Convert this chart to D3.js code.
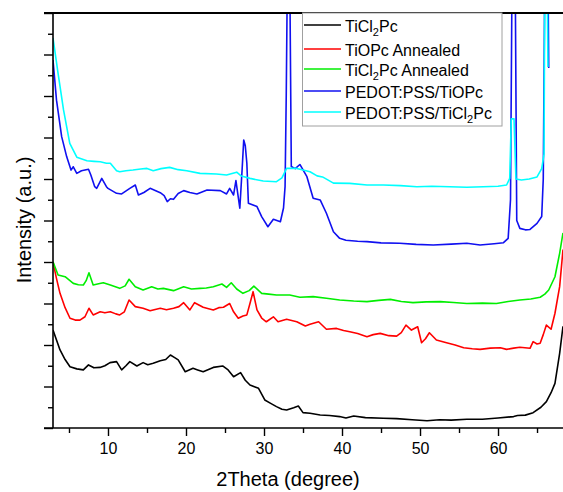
<!DOCTYPE html>
<html>
<head>
<meta charset="utf-8">
<script src="https://cdn.jsdelivr.net/npm/d3@7/dist/d3.min.js"></script>
<style>
body { margin: 0; background: #fff; }
svg { display: block; font-family: "Liberation Sans", Arial, sans-serif; }
</style>
</head>
<body>
<div id="app"></div>
<script>
// ---------- data (2theta in degree, intensity in a.u.) ----------
const seriesNames = ["TiCl2Pc", "TiOPc Annealed", "TiCl2Pc Annealed", "PEDOT:PSS/TiOPc", "PEDOT:PSS/TiCl2Pc"];
const seriesColors = ["#000000", "#ff0000", "#00ee00", "#1010f0", "#00ffff"];

const tiCl2Pc = [[2.95,4.72],[3.85,3.76],[4.5,3.3],[5.13,2.95],[6.0,2.85],[6.84,2.8],[7.5,3.04],[8.2,2.9],[8.97,2.92],[9.6,3.0],[10.26,3.15],[11.1,3.2],[11.75,2.8],[12.3,3.0],[12.8,3.2],[13.7,2.99],[14.5,3.15],[15.1,3.05],[15.8,3.12],[16.7,3.24],[17.4,3.3],[18.0,3.52],[18.5,3.4],[19.0,3.28],[19.9,2.71],[20.9,2.88],[21.5,2.8],[22.2,2.71],[23.5,2.92],[24.7,2.99],[25.4,2.8],[26.1,2.47],[27.0,2.67],[27.6,2.3],[28.2,2.07],[29.3,1.91],[30.1,1.35],[30.8,1.2],[31.6,1.03],[32.3,0.9],[32.9,0.87],[33.8,0.98],[34.4,1.06],[35.0,0.74],[35.9,0.71],[37.2,0.63],[38.4,0.6],[39.7,0.55],[40.5,0.48],[41.5,0.58],[43.0,0.5],[45.3,0.47],[47.0,0.45],[49.0,0.4],[50.9,0.35],[52.5,0.4],[54.0,0.38],[56.0,0.42],[58.0,0.42],[60.0,0.48],[62.0,0.55],[62.5,0.6],[63.5,0.62],[64.5,0.74],[65.5,1.0],[66.2,1.27],[66.8,1.7],[67.3,2.15],[67.9,3.6],[68.33,4.9]];

const tiOPcAnnealed = [[2.95,8.0],[3.4,7.2],[3.85,6.49],[4.5,5.8],[5.13,5.29],[5.8,5.2],[6.4,5.2],[7.05,5.36],[7.56,5.77],[8.1,5.45],[9.0,5.6],[9.6,5.55],[10.3,5.6],[11.0,5.5],[11.5,5.45],[12.1,5.6],[12.7,6.17],[13.5,5.85],[14.5,5.77],[15.4,5.65],[16.7,5.77],[17.5,5.7],[18.4,5.77],[19.1,5.85],[19.7,6.04],[20.5,5.69],[21.1,6.04],[22.2,5.82],[22.9,5.75],[23.5,5.69],[24.2,5.8],[24.8,5.82],[25.6,6.0],[26.1,5.6],[26.7,5.29],[27.3,5.4],[27.8,5.45],[28.2,6.0],[28.6,6.57],[29.1,5.69],[29.7,5.3],[30.3,5.12],[31.2,5.36],[31.8,5.12],[32.9,5.24],[34.2,5.12],[35.3,4.92],[35.9,5.0],[37.0,5.12],[38.0,4.76],[39.3,4.8],[40.2,4.7],[41.0,4.64],[42.0,4.55],[43.2,4.4],[44.0,4.5],[44.9,4.56],[46.0,4.45],[47.0,4.43],[47.6,4.6],[48.2,4.96],[48.9,4.72],[49.7,4.88],[50.2,4.11],[50.7,4.3],[51.2,4.59],[52.1,4.24],[53.4,4.11],[54.5,4.0],[55.6,3.87],[56.7,3.82],[57.7,3.79],[59.0,3.85],[60.3,3.87],[61.1,3.79],[62.0,3.85],[62.8,3.89],[64.1,3.84],[64.5,4.16],[65.0,4.05],[65.4,4.08],[65.8,4.5],[66.2,4.96],[66.8,4.76],[67.3,5.53],[67.9,6.81],[68.33,8.6]];

const tiCl2PcAnnealed = [[2.95,8.01],[3.6,7.37],[4.5,7.29],[5.55,6.97],[6.2,6.9],[6.84,6.89],[7.2,7.1],[7.56,7.48],[8.1,6.89],[8.8,6.95],[9.4,7.0],[10.3,6.89],[11.5,6.73],[12.2,6.85],[12.7,7.17],[13.5,6.81],[14.5,6.65],[15.6,6.81],[16.4,6.7],[17.1,6.73],[18.4,6.62],[19.7,6.81],[20.7,6.7],[21.8,6.73],[22.6,6.75],[23.5,6.81],[24.6,6.94],[25.2,6.78],[25.8,7.0],[26.5,6.7],[27.3,6.49],[28.1,6.62],[28.7,6.84],[29.7,6.49],[30.6,6.45],[31.6,6.41],[33.3,6.41],[34.6,6.3],[36.3,6.33],[38.0,6.25],[39.7,6.17],[41.5,6.12],[43.2,6.09],[44.7,6.15],[46.2,6.2],[47.6,6.1],[49.1,6.04],[50.8,6.08],[52.6,6.09],[54.3,6.05],[56.0,6.0],[58.0,6.02],[59.8,6.0],[61.3,6.1],[62.8,6.17],[64.2,6.22],[65.4,6.3],[66.0,6.45],[66.5,6.65],[67.3,7.29],[67.9,8.42],[68.33,9.4]];

const pedotTiOPc = [[2.95,17.73],[3.4,15.8],[4.06,14.04],[4.7,13.08],[5.26,12.43],[5.55,12.59],[6.0,12.27],[6.6,12.4],[7.5,12.47],[7.8,12.19],[8.3,11.63],[8.55,11.55],[9.2,12.03],[9.8,11.63],[10.0,11.55],[11.1,11.31],[11.75,11.28],[12.8,11.55],[13.5,11.71],[13.9,11.23],[14.6,11.35],[15.4,11.55],[16.7,11.34],[17.2,11.2],[17.6,10.91],[18.0,11.05],[18.4,11.02],[19.0,11.3],[19.7,11.44],[20.5,11.35],[21.4,11.28],[22.7,11.47],[24.4,11.44],[25.2,11.28],[25.6,11.55],[26.1,11.23],[26.4,11.92],[26.9,10.59],[27.2,12.5],[27.4,13.88],[27.6,13.6],[27.8,12.76],[28.0,10.83],[29.1,10.67],[29.7,10.19],[30.5,9.7],[31.2,10.06],[32.1,9.94],[32.5,10.6],[32.7,11.63],[32.85,16],[33.0,22],[33.3,22],[33.5,12.6],[34.0,12.5],[34.6,12.7],[35.5,12.11],[36.3,11.07],[37.2,10.99],[38.0,10.35],[38.9,9.46],[39.7,9.14],[40.5,9.05],[42.0,9.0],[43.2,8.98],[45.0,8.92],[47.4,8.9],[49.5,8.85],[51.7,8.82],[54.0,8.86],[56.0,8.9],[57.7,8.82],[59.5,8.88],[60.7,8.93],[61.3,9.14],[61.6,11],[61.8,22],[62.2,22],[62.4,10.0],[62.8,9.62],[63.5,9.55],[64.1,9.57],[65.0,9.86],[65.6,10.19],[65.8,12],[66.0,22],[66.4,22],[66.5,17.35]];

const pedotTiCl2Pc = [[2.95,18.8],[3.6,17.09],[4.3,15.33],[5.1,13.72],[6.0,13.05],[7.3,12.88],[8.2,12.85],[9.0,12.83],[9.8,12.76],[10.3,12.76],[11.1,12.4],[11.5,12.35],[12.3,12.4],[13.2,12.43],[14.2,12.48],[15.0,12.51],[15.8,12.4],[16.8,12.5],[17.9,12.56],[19.0,12.45],[20.1,12.4],[21.8,12.27],[23.9,12.24],[25.2,12.19],[26.5,12.33],[27.1,12.14],[28.2,12.03],[29.9,11.9],[31.6,11.87],[32.3,12.05],[32.9,12.51],[34.2,12.51],[35.0,12.43],[35.9,12.35],[36.8,12.15],[37.5,12.1],[38.9,11.8],[41.0,11.79],[43.2,11.71],[45.3,11.71],[47.5,11.68],[49.6,11.63],[51.5,11.65],[53.8,11.63],[56.0,11.6],[58.1,11.63],[60.0,11.65],[61.1,11.71],[61.5,12.03],[61.7,14.9],[62.05,14.9],[62.3,12.0],[63.0,11.95],[64.0,12.0],[65.0,12.1],[65.6,12.5],[65.9,13.2],[66.0,22],[66.3,22],[66.4,17.4]];

const allSeries = [tiCl2Pc, tiOPcAnnealed, tiCl2PcAnnealed, pedotTiOPc, pedotTiCl2Pc];

const xMajorTicks = [10, 20, 30, 40, 50, 60];
const xMinorTicks = [5, 15, 25, 35, 45, 55, 65];
const yMajorTicks = [0, 2, 4, 6, 8, 10, 12, 14, 16, 18, 20];
const yMinorTicks = [1, 3, 5, 7, 9, 11, 13, 15, 17, 19];

// ---------- layout ----------
const w = 563, h = 492;
const plotLeft = 53, plotRight = 563, plotTop = 13, plotBottom = 428;

const svg = d3.select('#app')
  .append('svg')
  .attr('width', w)
  .attr('height', h);

const x = d3.scaleLinear().domain([2.95, 68.33]).range([plotLeft, plotRight]);
const y = d3.scaleLinear().domain([0, 20]).range([plotBottom, plotTop]);

svg.append('clipPath')
  .attr('id', 'plot-clip')
  .append('rect')
  .attr('x', plotLeft)
  .attr('y', plotTop)
  .attr('width', plotRight - plotLeft)
  .attr('height', plotBottom - plotTop);

// ---------- curves ----------
const line = d3.line()
  .x(d => x(d[0]))
  .y(d => y(d[1]));

svg.append('g')
  .attr('clip-path', 'url(#plot-clip)')
  .selectAll('path')
  .data(allSeries)
  .enter()
  .append('path')
  .attr('d', line)
  .attr('fill', 'none')
  .attr('stroke', (d, i) => seriesColors[i])
  .attr('stroke-width', 1.6)
  .attr('stroke-linejoin', 'round');

// ---------- axes ----------
const xMajor = svg.append('g')
  .attr('transform', `translate(0,${plotBottom})`)
  .call(d3.axisBottom(x).tickValues(xMajorTicks).tickSize(8).tickSizeOuter(0).tickPadding(7));
xMajor.select('.domain').remove();
xMajor.selectAll('text')
  .attr('font-size', 16)
  .attr('font-family', '"Liberation Sans", Arial, sans-serif')
  .attr('fill', '#000');

const xMinor = svg.append('g')
  .attr('transform', `translate(0,${plotBottom})`)
  .call(d3.axisBottom(x).tickValues(xMinorTicks).tickSize(5).tickFormat(''));
xMinor.select('.domain').remove();

const yMajor = svg.append('g')
  .attr('transform', `translate(${plotLeft},0)`)
  .call(d3.axisLeft(y).tickValues(yMajorTicks).tickSize(9).tickFormat(''));
yMajor.select('.domain').remove();

const yMinor = svg.append('g')
  .attr('transform', `translate(${plotLeft},0)`)
  .call(d3.axisLeft(y).tickValues(yMinorTicks).tickSize(5).tickFormat(''));
yMinor.select('.domain').remove();

svg.selectAll('.tick line').attr('stroke', '#000').attr('stroke-width', 1.4);

// frame lines
svg.append('line')
  .attr('x1', 44).attr('x2', w)
  .attr('y1', plotBottom).attr('y2', plotBottom)
  .attr('stroke', '#000').attr('stroke-width', 1.6);
svg.append('line')
  .attr('x1', plotLeft).attr('x2', plotLeft)
  .attr('y1', plotTop).attr('y2', plotBottom)
  .attr('stroke', '#000').attr('stroke-width', 1.6);
svg.append('line')
  .attr('x1', 44).attr('x2', w)
  .attr('y1', plotTop).attr('y2', plotTop)
  .attr('stroke', '#000').attr('stroke-width', 2);

// axis titles
svg.append('text')
  .attr('x', 288)
  .attr('y', 486)
  .attr('text-anchor', 'middle')
  .attr('font-size', 20)
  .text('2Theta (degree)');

svg.append('text')
  .attr('transform', 'translate(31,220) rotate(-90)')
  .attr('text-anchor', 'middle')
  .attr('font-size', 20)
  .text('Intensity (a.u.)');

// ---------- legend ----------
const legend = svg.append('g');
legend.append('rect')
  .attr('x', 302.5)
  .attr('y', 13)
  .attr('width', 199.5)
  .attr('height', 113)
  .attr('fill', '#fff')
  .attr('stroke', '#a0a0a0')
  .attr('stroke-width', 1);

const rowY = [25, 49, 69, 91, 112];

seriesNames.forEach((name, i) => {
  legend.append('line')
    .attr('x1', 304).attr('x2', 341)
    .attr('y1', rowY[i]).attr('y2', rowY[i])
    .attr('stroke', seriesColors[i])
    .attr('stroke-width', 1.6);

  const t = legend.append('text')
    .attr('x', 345)
    .attr('y', rowY[i] + 6.5)
    .attr('font-size', 16);

  const parts = name.split('Cl2');
  parts.forEach((p, j) => {
    if (j > 0) {
      t.append('tspan').text('Cl');
      t.append('tspan').attr('font-size', 11).attr('dy', 4).text('2');
      t.append('tspan').attr('dy', -4).text(p);
    } else {
      t.append('tspan').text(p);
    }
  });
});
</script>
</body>
</html>
